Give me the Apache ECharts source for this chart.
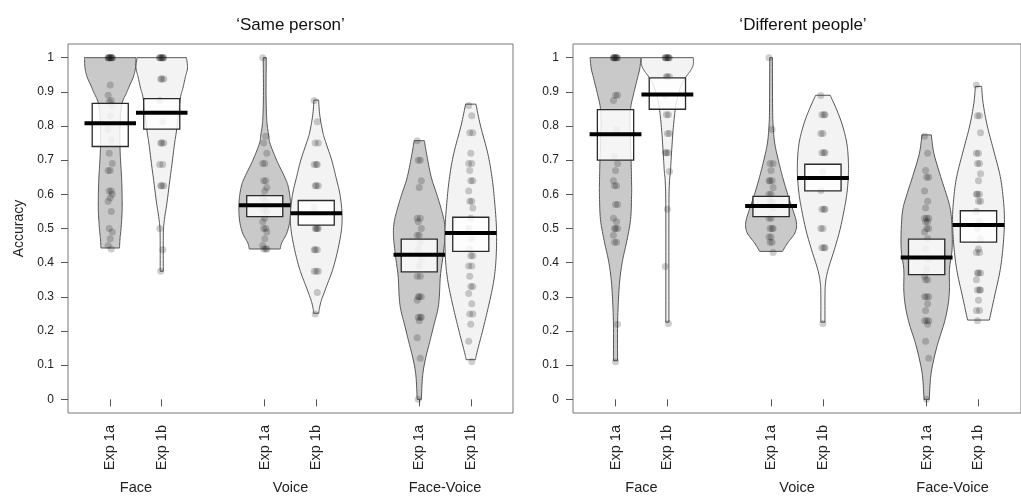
<!DOCTYPE html>
<html>
<head>
<meta charset="utf-8">
<script src="https://cdn.jsdelivr.net/npm/echarts@6.0.0/dist/echarts.min.js"></script>
<style>
html,body{margin:0;padding:0;background:#fff;}
#chart{width:1021px;height:498px;}
</style>
</head>
<body>
<div id="chart"></div>
<script>
// ---------------- DATA ----------------
const panelTitles = ['\u2018Same person\u2019', '\u2018Different people\u2019'];
const yAxisTitle = 'Accuracy';
const groupNames = ['Face', 'Voice', 'Face-Voice'];
const expNames = ['Exp 1a', 'Exp 1b'];
const yTickValues = [0, 0.1, 0.2, 0.3, 0.4, 0.5, 0.6, 0.7, 0.8, 0.9, 1];
const yTickLabels = ['0', '0.1', '0.2', '0.3', '0.4', '0.5', '0.6', '0.7', '0.8', '0.9', '1'];

// 'Same person' : means and inference band [low, high]
const sameMeans = [0.808, 0.839, 0.568, 0.545, 0.423, 0.487];
const sameBands = [[0.740, 0.866], [0.791, 0.880], [0.535, 0.596], [0.510, 0.582], [0.373, 0.469], [0.433, 0.533]];
// 'Different people'
const diffMeans = [0.776, 0.892, 0.566, 0.648, 0.415, 0.510];
const diffBands = [[0.700, 0.848], [0.849, 0.941], [0.535, 0.594], [0.610, 0.688], [0.365, 0.469], [0.460, 0.552]];

// bean (density) outlines: [accuracy, half-width]
const sameFace1aBean = [[1.0,0.5],[0.97,0.49],[0.944,0.45],[0.92,0.38],[0.895,0.31],[0.876,0.25],[0.85,0.21],[0.8,0.19],[0.74,0.19],[0.7,0.2],[0.65,0.22],[0.6,0.23],[0.55,0.23],[0.5,0.21],[0.47,0.19],[0.443,0.18]];
const sameFace1bBean = [[1.0,0.48],[0.97,0.5],[0.944,0.46],[0.91,0.41],[0.88,0.36],[0.79,0.29],[0.75,0.25],[0.69,0.2],[0.633,0.15],[0.574,0.1],[0.535,0.06],[0.5,0.035],[0.45,0.03],[0.375,0.03]];
const sameVoice1aBean = [[1.0,0.03],[0.9,0.025],[0.83,0.035],[0.8,0.05],[0.77,0.08],[0.75,0.1],[0.7,0.23],[0.65,0.39],[0.62,0.46],[0.575,0.5],[0.525,0.49],[0.487,0.43],[0.458,0.33],[0.44,0.3]];
const sameVoice1bBean = [[0.876,0.045],[0.83,0.07],[0.78,0.13],[0.75,0.19],[0.70,0.3],[0.652,0.38],[0.6,0.46],[0.545,0.5],[0.497,0.49],[0.438,0.42],[0.38,0.32],[0.331,0.2],[0.29,0.1],[0.265,0.06],[0.252,0.05]];
const sameFV1aBean = [[0.757,0.1],[0.72,0.14],[0.652,0.23],[0.6,0.34],[0.555,0.43],[0.516,0.49],[0.477,0.5],[0.419,0.46],[0.361,0.41],[0.302,0.39],[0.263,0.36],[0.215,0.28],[0.166,0.2],[0.118,0.12],[0.069,0.065],[0.0,0.04]];
const sameFV1bBean = [[0.864,0.1],[0.8,0.19],[0.72,0.33],[0.652,0.41],[0.584,0.46],[0.496,0.5],[0.409,0.49],[0.341,0.44],[0.263,0.33],[0.195,0.22],[0.137,0.12],[0.116,0.09]];

const diffFace1aBean = [[1.0,0.49],[0.97,0.47],[0.944,0.43],[0.895,0.35],[0.851,0.29],[0.8,0.28],[0.7,0.3],[0.63,0.31],[0.6,0.31],[0.526,0.29],[0.458,0.21],[0.41,0.14],[0.36,0.09],[0.302,0.06],[0.22,0.04],[0.113,0.04]];
const diffFace1bBean = [[1.0,0.5],[0.98,0.5],[0.963,0.45],[0.944,0.36],[0.92,0.27],[0.88,0.19],[0.846,0.15],[0.788,0.11],[0.72,0.08],[0.67,0.06],[0.633,0.04],[0.55,0.03],[0.226,0.03]];
const diffVoice1aBean = [[1.0,0.025],[0.85,0.03],[0.8,0.04],[0.75,0.07],[0.7,0.14],[0.652,0.22],[0.6,0.32],[0.555,0.42],[0.516,0.49],[0.487,0.46],[0.458,0.32],[0.433,0.22]];
const diffVoice1bBean = [[0.89,0.14],[0.846,0.27],[0.8,0.38],[0.75,0.46],[0.70,0.49],[0.652,0.49],[0.6,0.46],[0.555,0.41],[0.497,0.33],[0.438,0.22],[0.38,0.1],[0.34,0.05],[0.3,0.04],[0.226,0.04]];
const diffFV1aBean = [[0.774,0.09],[0.72,0.14],[0.652,0.27],[0.6,0.38],[0.555,0.46],[0.497,0.49],[0.438,0.49],[0.38,0.44],[0.32,0.44],[0.273,0.41],[0.224,0.34],[0.166,0.22],[0.118,0.14],[0.069,0.08],[0.0,0.05]];
const diffFV1bBean = [[0.916,0.06],[0.866,0.09],[0.8,0.17],[0.73,0.29],[0.652,0.42],[0.584,0.48],[0.526,0.5],[0.458,0.48],[0.38,0.42],[0.302,0.31],[0.232,0.21]];

// individual participant scores
const sameFace1aPts = [1,1,1,1,1,1,1,1,1,0.92,0.89,0.875,0.87,0.86,0.83,0.79,0.76,0.72,0.69,0.67,0.67,0.61,0.61,0.6,0.59,0.58,0.55,0.5,0.49,0.47,0.45,0.44];
const sameFace1bPts = [1,1,1,1,1,1,1,0.9375,0.9375,0.9375,0.875,0.8125,0.75,0.75,0.75,0.6875,0.6875,0.625,0.625,0.625,0.5,0.4375,0.375];
const sameVoice1aPts = [1.0,0.77,0.75,0.72,0.69,0.69,0.64,0.64,0.62,0.61,0.59,0.58,0.555,0.55,0.53,0.52,0.5,0.5,0.49,0.47,0.45,0.44,0.44,0.44];
const sameVoice1bPts = [0.875,0.8125,0.75,0.75,0.6875,0.6875,0.6875,0.625,0.625,0.625,0.5625,0.5,0.5,0.5,0.5,0.4375,0.4375,0.4375,0.375,0.375,0.375,0.3125,0.25];
const sameFV1aPts = [0.757,0.7,0.7,0.64,0.62,0.53,0.53,0.52,0.5,0.48,0.48,0.46,0.44,0.41,0.39,0.36,0.36,0.3,0.3,0.3,0.29,0.24,0.24,0.24,0.23,0.18,0.12,0.0];
const sameFV1bPts = [0.86,0.83,0.78,0.78,0.72,0.69,0.69,0.67,0.64,0.64,0.61,0.58,0.58,0.56,0.53,0.5,0.47,0.44,0.42,0.42,0.39,0.39,0.36,0.33,0.33,0.31,0.28,0.25,0.25,0.22,0.17,0.11];

const diffFace1aPts = [1,1,1,1,1,1,1,1,0.89,0.89,0.875,0.79,0.71,0.69,0.67,0.64,0.625,0.625,0.57,0.57,0.53,0.52,0.5,0.5,0.5,0.48,0.46,0.46,0.22,0.11];
const diffFace1bPts = [1,1,1,1,1,1,1,0.944,0.944,0.944,0.889,0.833,0.833,0.778,0.778,0.722,0.722,0.722,0.667,0.556,0.389,0.222];
const diffVoice1aPts = [1.0,0.79,0.69,0.69,0.67,0.64,0.64,0.64,0.62,0.6,0.6,0.58,0.58,0.56,0.53,0.53,0.5,0.5,0.5,0.475,0.475,0.46,0.46,0.43];
const diffVoice1bPts = [0.889,0.833,0.833,0.833,0.778,0.778,0.722,0.722,0.722,0.667,0.611,0.556,0.556,0.556,0.5,0.5,0.444,0.444,0.444,0.222];
const diffFV1aPts = [0.77,0.72,0.67,0.65,0.65,0.61,0.58,0.56,0.53,0.53,0.53,0.52,0.52,0.5,0.5,0.49,0.47,0.44,0.41,0.38,0.36,0.35,0.35,0.3,0.3,0.3,0.28,0.26,0.23,0.23,0.23,0.22,0.17,0.12,0.0];
const diffFV1bPts = [0.92,0.83,0.83,0.78,0.72,0.72,0.69,0.69,0.66,0.64,0.6,0.6,0.6,0.58,0.58,0.55,0.52,0.5,0.47,0.44,0.43,0.43,0.37,0.37,0.37,0.35,0.32,0.32,0.32,0.29,0.26,0.26,0.23];

// ---------------- BUILD ----------------
const panels = [
  { beans: [sameFace1aBean, sameFace1bBean, sameVoice1aBean, sameVoice1bBean, sameFV1aBean, sameFV1bBean],
    pts: [sameFace1aPts, sameFace1bPts, sameVoice1aPts, sameVoice1bPts, sameFV1aPts, sameFV1bPts],
    means: sameMeans, bands: sameBands },
  { beans: [diffFace1aBean, diffFace1bBean, diffVoice1aBean, diffVoice1bBean, diffFV1aBean, diffFV1bBean],
    pts: [diffFace1aPts, diffFace1bPts, diffVoice1aPts, diffVoice1bPts, diffFV1aPts, diffFV1bPts],
    means: diffMeans, bands: diffBands }
];

const FONT = "'Liberation Sans', Arial, Helvetica, sans-serif";
const catPos = k => 3 * Math.floor(k / 2) + (k % 2) + 1;
const catValues = [0,1,2,3,4,5].map(catPos);
const groupValues = [0,1,2].map(g => (catPos(2*g) + catPos(2*g+1)) / 2);
const beanFills = ['#c9c9c9', '#f3f3f3'];
const BAND_HW = 0.35, BAR_HW = 0.5;

function catmull(pts, steps) {
  if (pts.length < 3) return pts.slice();
  const out = [];
  for (let i = 0; i < pts.length - 1; i++) {
    const p0 = pts[Math.max(i-1,0)], p1 = pts[i], p2 = pts[i+1], p3 = pts[Math.min(i+2, pts.length-1)];
    for (let s = 0; s < steps; s++) {
      const t = s / steps, t2 = t*t, t3 = t2*t;
      const f = d => 0.5*((2*p1[d]) + (-p0[d]+p2[d])*t + (2*p0[d]-5*p1[d]+4*p2[d]-p3[d])*t2 + (-p0[d]+3*p1[d]-3*p2[d]+p3[d])*t3);
      out.push([f(0), f(1)]);
    }
  }
  out.push(pts[pts.length-1]);
  return out;
}

const grids = [
  { left: 68, top: 44, width: 445, height: 369 },
  { left: 573, top: 44, width: 460, height: 369 }
];

const xAxes = [], yAxes = [], series = [];
panels.forEach((P, p) => {
  const axisLabelStyle = { fontFamily: FONT, color: '#222' };
  xAxes.push({
    type: 'value', gridIndex: p, min: 0.18, max: 8.82, position: 'bottom',
    axisLine: { show: false }, splitLine: { show: false },
    axisTick: { show: true, customValues: catValues, length: 7, lineStyle: { color: '#555' } },
    axisLabel: Object.assign({ customValues: catValues, rotate: 90, margin: 12, fontSize: 14.5,
      formatter: v => expNames[(Math.round(v) - 1) % 3] }, axisLabelStyle)
  });
  xAxes.push({
    type: 'value', gridIndex: p, min: 0.18, max: 8.82, position: 'bottom',
    axisLine: { show: false }, splitLine: { show: false }, axisTick: { show: false },
    axisLabel: Object.assign({ customValues: groupValues, margin: 67, fontSize: 14.5,
      formatter: v => groupNames[Math.round((v - groupValues[0]) / 3)] }, axisLabelStyle)
  });
  yAxes.push({
    type: 'value', gridIndex: p, min: -0.04, max: 1.04,
    name: p === 0 ? yAxisTitle : '', nameLocation: 'middle', nameGap: 42,
    nameTextStyle: { fontFamily: FONT, fontSize: 14, color: '#222' },
    axisLine: { show: false }, splitLine: { show: false },
    axisTick: { show: true, customValues: yTickValues, length: 7, lineStyle: { color: '#555' } },
    axisLabel: Object.assign({ customValues: yTickValues, margin: 14, fontSize: 12,
      formatter: v => yTickLabels[Math.round(v * 10)] }, axisLabelStyle)
  });

  const xi = p * 2, yi = p;
  // beans
  series.push({
    type: 'custom', xAxisIndex: xi, yAxisIndex: yi, z: 1, silent: true,
    data: catValues.map(u => [u, 0]),
    renderItem: (params, api) => {
      const k = params.dataIndex, u = api.value(0), prof = P.beans[k];
      const right = catmull(prof.map(d => api.coord([u + d[1], d[0]])), 8);
      const left = catmull(prof.map(d => api.coord([u - d[1], d[0]])), 8).reverse();
      return { type: 'polygon', shape: { points: right.concat(left) },
        style: { fill: beanFills[k % 2], stroke: '#555', lineWidth: 1 } };
    }
  });
  // points
  const scatterData = [];
  P.pts.forEach((arr, k) => {
    arr.forEach((v, j) => scatterData.push([catPos(k) + (((j * 3) % 5) - 2) * 0.02, v]));
  });
  series.push({
    type: 'scatter', xAxisIndex: xi, yAxisIndex: yi, z: 2, silent: true,
    symbol: 'circle', symbolSize: 7, data: scatterData,
    itemStyle: { color: 'rgba(20,20,20,0.26)' }
  });
  // inference bands
  series.push({
    type: 'custom', xAxisIndex: xi, yAxisIndex: yi, z: 3, silent: true,
    data: P.bands.map((b, k) => [catPos(k), b[0], b[1]]),
    renderItem: (params, api) => {
      const u = api.value(0);
      const a = api.coord([u - BAND_HW, api.value(2)]);
      const b = api.coord([u + BAND_HW, api.value(1)]);
      return { type: 'rect', shape: { x: a[0], y: a[1], width: b[0] - a[0], height: b[1] - a[1] },
        style: { fill: 'rgba(255,255,255,0.82)', stroke: '#2a2a2a', lineWidth: 1.3 } };
    }
  });
  // mean bars
  series.push({
    type: 'custom', xAxisIndex: xi, yAxisIndex: yi, z: 4, silent: true,
    data: P.means.map((m, k) => [catPos(k), m]),
    renderItem: (params, api) => {
      const u = api.value(0), m = api.value(1);
      const a = api.coord([u - BAR_HW, m]), b = api.coord([u + BAR_HW, m]);
      return { type: 'line', shape: { x1: a[0], y1: a[1], x2: b[0], y2: b[1] },
        style: { stroke: '#000', lineWidth: 4 } };
    }
  });
});

const chart = echarts.init(document.getElementById('chart'), null, { renderer: 'canvas' });
chart.setOption({
  animation: false,
  backgroundColor: '#fff',
  grid: grids.map(g => Object.assign({ show: true, borderColor: '#777', borderWidth: 1, backgroundColor: 'transparent' }, g)),
  xAxis: xAxes,
  yAxis: yAxes,
  graphic: panelTitles.map((t, p) => ({
    type: 'text', x: grids[p].left + grids[p].width / 2, y: 25,
    style: { text: t, font: "17px " + FONT, fill: '#111', textAlign: 'center', textVerticalAlign: 'middle' }
  })),
  series: series
});
</script>
</body>
</html>
